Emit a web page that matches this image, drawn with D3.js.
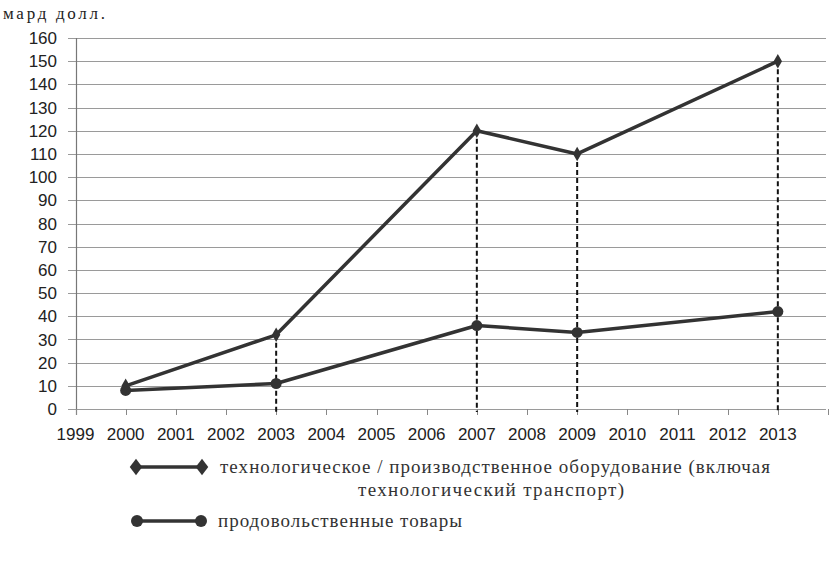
<!DOCTYPE html>
<html><head><meta charset="utf-8">
<script src="https://cdn.jsdelivr.net/npm/d3@7/dist/d3.min.js"></script>
<style>body{margin:0;background:#fff}svg{display:block}
.serif{font-family:"Liberation Serif","DejaVu Serif","Noto Serif","Times New Roman",Times,serif}
.sans{font-family:"Liberation Sans",Arial,sans-serif}</style>
</head><body>
<script>
const years = [2000, 2003, 2007, 2009, 2013];
const techValues = [10, 32, 120, 110, 150];
const foodValues = [8, 11, 36, 33, 42];
const dropYears = [2003, 2007, 2009, 2013];
const xTickYears = d3.range(1999, 2014);
const yTicks = d3.range(0, 161, 10);
const unitLabel = "мард долл.";
const legendTech1 = "технологическое / производственное оборудование (включая";
const legendTech2 = "технологический транспорт)";
const legendFood = "продовольственные товары";

const W = 838, H = 563;
const svg = d3.select("body").append("svg").attr("width", W).attr("height", H);
const x = d3.scaleLinear().domain([1999, 2014]).range([75.5, 828]);
const y = d3.scaleLinear().domain([0, 160]).range([409, 38]);
const ink = "#333";

// gridlines
svg.append("g").selectAll("line").data(yTicks).join("line")
  .attr("x1", 68).attr("x2", 826)
  .attr("y1", d => Math.round(y(d)) + 0.5).attr("y2", d => Math.round(y(d)) + 0.5)
  .attr("stroke", "#9a9a9a").attr("stroke-width", 1);

// y axis line
svg.append("line").attr("x1", 76.5).attr("x2", 76.5).attr("y1", 38).attr("y2", 415)
  .attr("stroke", "#777").attr("stroke-width", 1.2);

// y labels
svg.append("g").attr("class", "sans").selectAll("text").data(yTicks).join("text")
  .attr("x", 57).attr("y", d => y(d)).attr("dy", "0.36em")
  .attr("text-anchor", "end").attr("font-size", 17).attr("fill", "#222").text(d => d);

// x ticks
svg.append("g").selectAll("line").data(xTickYears.concat([2014])).join("line")
  .attr("x1", d => Math.round(x(d)) + 0.5).attr("x2", d => Math.round(x(d)) + 0.5)
  .attr("y1", 409).attr("y2", 415).attr("stroke", "#888");

svg.append("g").attr("class", "sans").selectAll("text").data(xTickYears).join("text")
  .attr("x", d => x(d)).attr("y", 440)
  .attr("text-anchor", "middle").attr("font-size", 17).attr("fill", "#222").text(d => d);

// unit label
svg.append("text").attr("class", "serif").attr("x", 3).attr("y", 19)
  .attr("font-size", 17).attr("fill", "#222")
  .attr("textLength", 102).attr("lengthAdjust", "spacing").text(unitLabel);

// drop lines
const techByYear = new Map(years.map((yr, i) => [yr, techValues[i]]));
svg.append("g").selectAll("line").data(dropYears).join("line")
  .attr("x1", d => x(d)).attr("x2", d => x(d))
  .attr("y1", d => y(techByYear.get(d))).attr("y2", 412)
  .attr("stroke", "#111").attr("stroke-width", 2).attr("stroke-dasharray", "5,3");

const line = d3.line().x(d => x(d[0])).y(d => y(d[1]));
const techData = years.map((yr, i) => [yr, techValues[i]]);
const foodData = years.map((yr, i) => [yr, foodValues[i]]);

svg.append("path").datum(foodData).attr("d", line).attr("fill", "none")
  .attr("stroke", ink).attr("stroke-width", 3.5).attr("stroke-linejoin", "round");
svg.append("path").datum(techData).attr("d", line).attr("fill", "none")
  .attr("stroke", ink).attr("stroke-width", 3.5).attr("stroke-linejoin", "round");

const diamond = d3.symbol().type(d3.symbolDiamond).size(60);
svg.append("g").selectAll("circle").data(foodData).join("circle")
  .attr("cx", d => x(d[0])).attr("cy", d => y(d[1])).attr("r", 5.5).attr("fill", ink);
svg.append("g").selectAll("path").data(techData).join("path")
  .attr("d", diamond).attr("transform", d => `translate(${x(d[0])},${y(d[1])})`).attr("fill", ink);

// legend
const lg = svg.append("g").attr("class", "serif").attr("font-size", 19).attr("fill", "#333");
const ly1 = 467, ly2 = 521;
lg.append("line").attr("x1", 136).attr("x2", 202).attr("y1", ly1).attr("y2", ly1).attr("stroke", ink).attr("stroke-width", 3.5);
[136, 202].forEach(px => lg.append("path").attr("d", d3.symbol().type(d3.symbolDiamond).size(80))
  .attr("transform", `translate(${px},${ly1}) scale(1.3,1)`).attr("fill", ink));
lg.append("text").attr("x", 220).attr("y", ly1 + 6)
  .attr("textLength", 550).attr("lengthAdjust", "spacing").text(legendTech1);
lg.append("text").attr("x", 358).attr("y", ly1 + 29)
  .attr("textLength", 266).attr("lengthAdjust", "spacing").text(legendTech2);
lg.append("line").attr("x1", 137).attr("x2", 201).attr("y1", ly2).attr("y2", ly2).attr("stroke", ink).attr("stroke-width", 3.5);
[137, 201].forEach(px => lg.append("circle").attr("cx", px).attr("cy", ly2).attr("r", 6).attr("fill", ink));
lg.append("text").attr("x", 218).attr("y", ly2 + 6)
  .attr("textLength", 244).attr("lengthAdjust", "spacing").text(legendFood);
</script>
</body></html>
